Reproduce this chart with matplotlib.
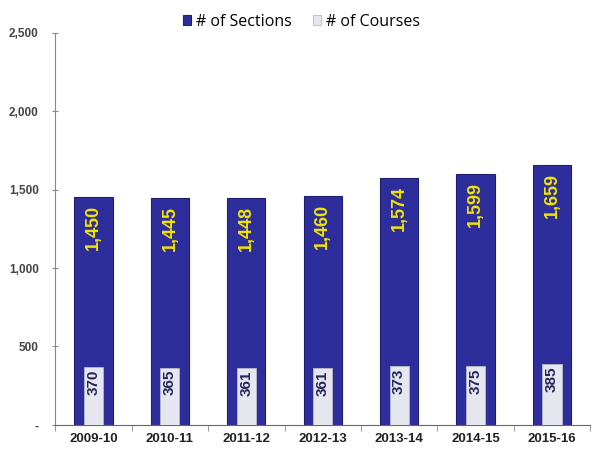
import matplotlib.pyplot as plt
import matplotlib.ticker as mticker

plt.rcParams["font.family"] = ["Liberation Sans", "DejaVu Sans"]

years = ["2009-10", "2010-11", "2011-12", "2012-13", "2013-14", "2014-15", "2015-16"]
sections = [1450, 1445, 1448, 1460, 1574, 1599, 1659]
courses = [370, 365, 361, 361, 373, 375, 385]

fig = plt.figure(figsize=(6.01, 4.5), dpi=100)
ax = fig.add_axes([0.092, 0.056, 0.89, 0.871])

x = range(len(years))
ax.bar(x, sections, 0.5, color="#2D2E9C", edgecolor="#1E1F70", linewidth=0.8,
       label="# of Sections", zorder=2)
ax.bar(x, courses, 0.25, color="#E6E7EE", edgecolor="#B8B8C8", linewidth=0.6,
       label="# of Courses", zorder=3)

# value labels, rotated like the original
for i in x:
    ax.text(i, sections[i] - 50, f"{sections[i]:,}", rotation=90, ha="center", va="top",
            color="#F2E500", fontsize=13, fontweight="bold", zorder=4)
    ax.text(i, courses[i] - 15, f"{courses[i]:,}", rotation=90, ha="center", va="top",
            color="#25265A", fontsize=11, fontweight="bold", zorder=4)

ax.set_xlim(-0.5, len(years) - 0.5)
ax.set_ylim(0, 2500)
ax.set_yticks([0, 500, 1000, 1500, 2000, 2500])
ax.yaxis.set_major_formatter(mticker.FuncFormatter(lambda v, p: "-" if v == 0 else f"{int(v):,}"))
ax.set_xticks(list(x))
ax.set_xticklabels(years, fontsize=9.5, fontweight="bold", color="#222222")
ax.tick_params(axis="x", length=0, pad=6)
ax.set_xticks([i + 0.5 for i in range(-1, len(years))], minor=True)
ax.tick_params(axis="x", which="minor", length=4, direction="out", color="#888888")
ax.tick_params(axis="y", labelsize=8.5, labelcolor="#444444", length=4, direction="inout",
               color="#888888", pad=10)
for t in ax.get_yticklabels():
    t.set_fontweight("bold")

for s in ["top", "right"]:
    ax.spines[s].set_visible(False)
ax.spines["left"].set_color("#888888")
ax.spines["bottom"].set_color("#666666")

ax.legend(loc="upper center", bbox_to_anchor=(0.46, 1.085), ncol=2, frameon=False,
          handlelength=0.55, handleheight=0.55, handletextpad=0.3,
          columnspacing=1.3, prop={"family": "Open Sans", "size": 11.5})

fig.savefig("out.png", dpi=100)
